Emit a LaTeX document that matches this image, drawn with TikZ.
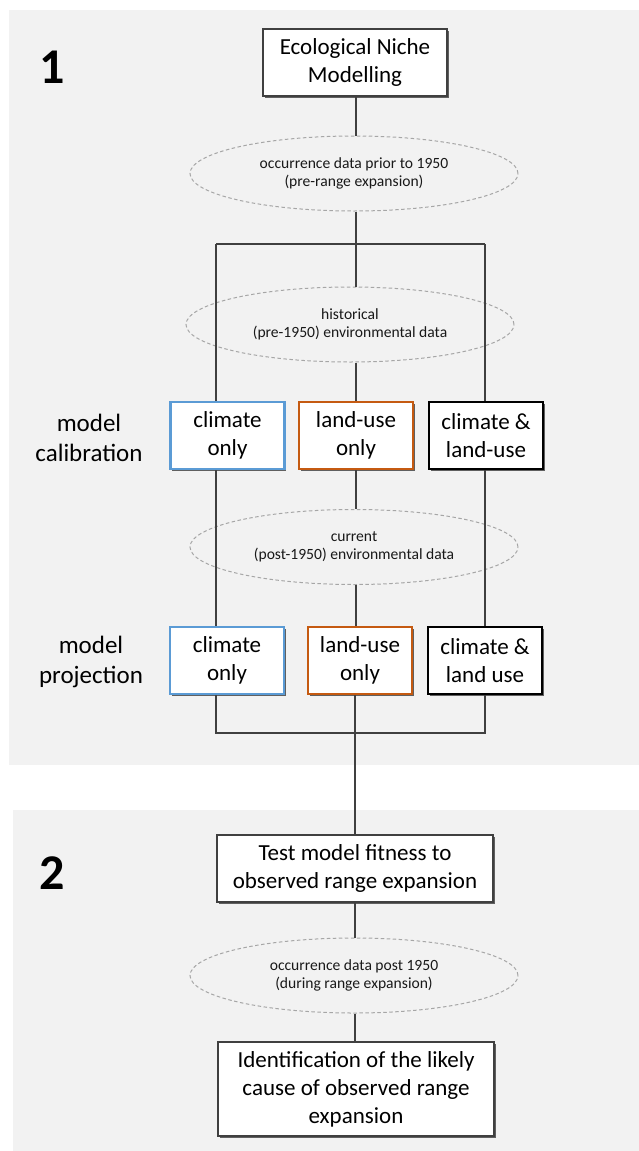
\documentclass[tikz,border=0pt]{standalone}
\usepackage{fontspec}
\setmainfont{Carlito}
\usetikzlibrary{shapes.geometric,shadows}
\definecolor{panelbg}{HTML}{F2F2F2}
\definecolor{bluebox}{HTML}{5B9BD5}
\definecolor{orangebox}{HTML}{C55A11}
\definecolor{linegray}{HTML}{404040}
\definecolor{dashgray}{HTML}{A6A6A6}
\begin{document}
\begin{tikzpicture}[x=1pt,y=-1pt,
  panel/.style={fill=panelbg,draw=none},
  boxbase/.style={rectangle,fill=white,inner sep=0pt,align=center,
    font=\fontsize{23}{28}\selectfont,text=black,minimum height=67pt,
    drop shadow={shadow xshift=1.5pt,shadow yshift=-1.5pt,opacity=0.6,fill=black}},
  mainbox/.style={boxbase,draw=linegray,line width=1.8pt},
  climbox/.style={boxbase,draw=bluebox,line width=2.2pt,minimum width=114pt},
  landbox/.style={boxbase,draw=orangebox,line width=2.2pt,minimum width=114pt},
  bothbox/.style={boxbase,draw=black,line width=2.8pt,minimum width=114pt},
  dataell/.style={ellipse,draw=dashgray,dash pattern=on 3.5pt off 2.5pt,line width=1pt,
    minimum width=328pt,minimum height=75pt,inner sep=0pt,align=center,
    font=\fontsize{15.6}{18.5}\selectfont,text=black!90},
  sidelabel/.style={align=center,font=\fontsize{25}{30}\selectfont,text=black},
  bignum/.style={font=\fontsize{50}{50}\selectfont\bfseries,text=black},
  conn/.style={draw=linegray,line width=1.4pt}
]
\useasboundingbox (0,0) rectangle (639,1151);
\fill[white] (0,0) rectangle (639,1151);
% panels
\path[panel] (9,10) rectangle (639,765);
\path[panel] (13,810) rectangle (639,1151);

% section numbers and side labels
\node[bignum] (n1) at (52,67) {1};
\node[bignum] (n2) at (52.5,873) {2};
\node[sidelabel] (lcal) at (89,438) {model\\calibration};
\node[sidelabel] (lproj) at (91,661.5) {model\\projection};

% nodes
\node[mainbox,minimum width=184pt] (enm) at (355,62.5) {Ecological Niche\\Modelling};
\node[dataell] (e1) at (354,173.5) {occurrence data prior to 1950\\(pre-range expansion)};
\node[dataell] (e2) at (350,324.5) {historical\\(pre-1950) environmental data};

\node[climbox] (cc) at (227.5,435.5) {climate\\only};
\node[landbox] (cl) at (356,435.5) {land-use\\only};
\node[bothbox] (cb) at (486,435.5) {climate \&\\land-use};

\node[dataell] (e3) at (354,547) {current\\(post-1950) environmental data};

\node[climbox] (pc) at (227,660.5) {climate\\only};
\node[landbox,minimum width=104pt] (pl) at (360,660.5) {land-use\\only};
\node[bothbox] (pb) at (485,660.5) {climate \&\\land use};

\node[mainbox,minimum width=276pt] (test) at (355,868.5) {Test model fitness to\\observed range expansion};
\node[dataell] (e4) at (354,975.5) {occurrence data post 1950\\(during range expansion)};
\node[mainbox,minimum width=276pt,minimum height=94pt] (ident) at (356,1089) {Identification of the likely\\cause of observed range\\expansion};

% bracket coordinates
\coordinate (bL) at (216,244);
\coordinate (bR) at (485,244);
\coordinate (bM) at (356,244);
\coordinate (pL) at (216,733);
\coordinate (pR) at (485,733);
\coordinate (pM) at (355,733);

% connectors
\draw[conn] (enm.south -| bM) -- (e1.north -| bM);
\draw[conn] (e1.south -| bM) -- (e2.north -| bM);
\draw[conn] (bL) -- (bR);
\draw[conn] (bL) -- (bL |- cc.north);
\draw[conn] (bR) -- (bR |- cb.north);
\draw[conn] (e2.south -| bM) -- (cl.north -| bM);
\draw[conn] (cc.south -| bL) -- (pc.north -| bL);
\draw[conn] (cb.south -| bR) -- (pb.north -| bR);
\draw[conn] (cl.south -| bM) -- (e3.north -| bM);
\draw[conn] (e3.south -| bM) -- (pl.north -| bM);
\draw[conn] (pc.south -| pL) -- (pL) -- (pR) -- (pb.south -| pR);
\draw[conn] (pl.south -| pM) -- (test.north -| pM);
\draw[conn] (test.south -| pM) -- (e4.north -| pM);
\draw[conn] (e4.south -| pM) -- (ident.north -| pM);
\end{tikzpicture}
\end{document}
